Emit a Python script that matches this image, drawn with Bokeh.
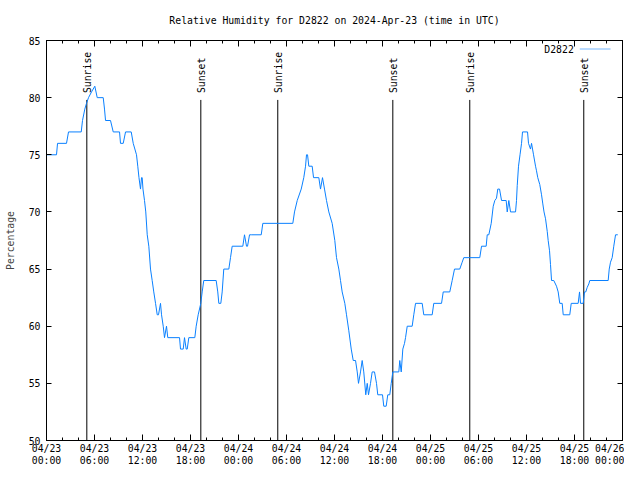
import math
from bokeh.plotting import figure
from bokeh.models import LinearAxis, FixedTicker, Range1d, Label, PolyAnnotation
from bokeh.embed import file_html
from bokeh.resources import INLINE
from bokeh.core.properties import value

# ---- data (hours since 2024-04-23 00:00 UTC) ----
hours = [0.00, 1.25, 1.38, 2.50, 2.75, 4.34, 4.50, 4.79, 5.00, 5.25, 5.63, 6.04, 6.34, 7.09, 7.25, 7.38,
         8.00, 8.34, 9.13, 9.25, 9.59, 9.88, 10.59, 10.84, 11.25, 11.41, 11.56, 11.75, 11.88, 11.96, 12.06,
         12.25, 12.41, 12.59, 12.79, 13.00, 13.21, 13.41, 13.63, 13.84, 14.00, 14.25, 14.38, 14.59, 14.75,
         15.00, 15.16, 16.63, 16.75, 17.09, 17.25, 17.46, 17.59, 17.79, 18.54, 18.71, 18.96, 19.29, 19.46,
         19.66, 21.21, 21.41, 21.54, 21.79, 21.96, 22.16, 22.79, 23.00, 23.21, 24.54, 24.75, 25.00, 25.13,
         25.38, 25.59, 26.84, 27.04, 30.79, 31.00, 31.34, 31.84, 32.16, 32.38, 32.50, 32.63, 32.79, 33.21,
         33.38, 34.04, 34.25, 34.50, 34.75, 35.00, 35.29, 35.71, 36.04, 36.25, 36.54, 36.75, 36.96, 37.29,
         37.50, 37.79, 38.09, 38.34, 38.63, 38.84, 39.00, 39.25, 39.46, 39.66, 39.91, 40.09, 40.25, 40.50,
         40.71, 41.00, 41.25, 41.41, 42.00, 42.16, 42.46, 42.66, 42.91, 43.09, 43.29, 44.04, 44.16, 44.34,
         44.54, 44.75, 44.88, 45.09, 45.71, 45.91, 46.13, 46.96, 47.16, 48.21, 48.41, 49.38, 49.59, 50.41,
         50.71, 51.00, 51.66, 51.96, 52.16, 54.16, 54.38, 54.96, 55.09, 55.29, 55.59, 55.84, 56.04, 56.25,
         56.41, 56.63, 56.88, 57.46, 57.59, 57.79, 58.00, 58.63, 58.75, 58.84, 59.00, 59.19, 59.38, 59.50,
         60.13, 60.25, 60.50, 60.63, 60.88, 61.13, 61.25, 61.41, 61.66, 61.88, 62.04, 62.19, 62.38, 62.59,
         62.71, 62.88, 63.00, 63.13, 63.41, 63.75, 63.96, 64.16, 64.46, 64.59, 65.41, 65.59, 66.46, 66.63,
         66.75, 67.09, 67.25, 67.41, 67.59, 67.79, 67.91, 70.21, 70.34, 70.50, 70.71, 70.91, 71.13, 71.41]
humidity = [75, 75, 76, 76, 77, 77, 78, 79, 79.5, 80, 80.5, 81, 80, 80, 79, 78,
            78, 77, 77, 76, 76, 77, 77, 76, 75, 74, 73, 72, 73, 73, 72,
            71, 70, 68, 67, 65, 64, 63, 62, 61, 61, 62, 61, 60, 59,
            60, 59, 59, 58, 58, 59, 58, 58, 59, 59, 60, 61, 62, 63,
            64, 64, 63, 62, 62, 63, 65, 65, 66, 67, 67, 68, 67, 67,
            68, 68, 68, 69, 69, 70, 71, 72, 73, 74, 75, 75, 74, 74,
            73, 73, 72, 73, 72, 71, 70, 69, 67.5, 66, 65, 64, 63, 62,
            61, 59.6, 58, 57, 57, 56, 55, 56, 57, 56, 54, 55, 54, 55,
            56, 56, 55, 54, 54, 53, 53, 54, 54, 55, 56, 56, 57, 56,
            58, 58.5, 59, 60, 60, 61, 62, 62, 61, 61, 62, 62, 63, 63,
            64, 65, 65, 65.6, 66, 66, 67, 67, 68, 68, 69, 70.5, 71, 71.2,
            72, 72, 71, 71, 70, 71, 70, 70, 71, 72.3, 74, 75, 76, 77,
            77, 76, 75.5, 76, 75, 74, 73.6, 73, 72.4, 71.5, 70.7, 70, 69.4, 68.3,
            67.5, 66.6, 65.4, 64, 64, 63.5, 63, 62, 62, 61, 61, 62, 62, 63,
            62, 62, 63, 63, 63.4, 63.7, 64, 64, 65, 65.6, 66, 67, 68, 68]

sunrise_hours = [5.04, 28.91, 52.91]
sunset_hours = [19.29, 43.29, 67.16]

title_text = "Relative Humidity for D2822 on 2024-Apr-23 (time in UTC)"
x_tick_hours = [0, 6, 12, 18, 24, 30, 36, 42, 48, 54, 60, 66, 72]
x_tick_dates = ["04/23", "04/23", "04/23", "04/23", "04/24", "04/24", "04/24", "04/24",
                "04/25", "04/25", "04/25", "04/25", "04/26"]
x_tick_times = ["00:00", "06:00", "12:00", "18:00", "00:00", "06:00", "12:00", "18:00",
                "00:00", "06:00", "12:00", "18:00", "00:00"]
x_minor_hours = list(range(0, 73, 2))
y_ticks = [50, 55, 60, 65, 70, 75, 80, 85]

FONT = "DejaVu Sans Mono"
FS = "9.8px"
LINE_COLOR = "#0a80ff"

p = figure(frame_width=576, frame_height=400, output_backend="svg", toolbar_location=None,
           x_range=Range1d(0, 72), y_range=Range1d(50, 85),
           min_border_left=46, min_border_right=2, min_border_top=40, min_border_bottom=24)
p.grid.visible = False
p.outline_line_color = "black"
p.outline_line_alpha = 1
p.background_fill_color = "white"
p.border_fill_color = "white"

def style_axis(ax, ticks, labels=True):
    ax.axis_line_color = "black"
    ax.major_tick_line_color = "black"
    ax.minor_tick_line_color = "black"
    ax.major_tick_out = 0
    ax.minor_tick_out = 0
    ax.major_label_text_font = FONT
    ax.major_label_text_color = "black"
    if labels:
        ax.major_label_text_font_size = FS
    else:
        ax.major_label_overrides = {t: "" for t in ticks}
        ax.major_label_text_font_size = "0px"
        ax.major_label_standoff = 0

xa = p.xaxis[0]
xa.ticker = FixedTicker(ticks=x_tick_hours, minor_ticks=x_minor_hours)
style_axis(xa, x_tick_hours)
xa.major_label_overrides = {h: d + "\n" + t for h, d, t in zip(x_tick_hours, x_tick_dates, x_tick_times)}
xa.major_tick_in = 6
xa.minor_tick_in = 3
xa.major_label_standoff = 2
xa.major_label_text_line_height = 1.15

ya = p.yaxis[0]
ya.ticker = FixedTicker(ticks=y_ticks, minor_ticks=[])
style_axis(ya, y_ticks)
ya.major_tick_in = 5
ya.major_label_standoff = 6
ya.axis_label = "Percentage"
ya.axis_label_text_font = FONT
ya.axis_label_text_font_size = FS
ya.axis_label_text_font_style = "normal"
ya.axis_label_standoff = 10

# top mirror axis carries the chart title
top = LinearAxis(ticker=FixedTicker(ticks=x_tick_hours, minor_ticks=x_minor_hours))
style_axis(top, x_tick_hours, labels=False)
top.major_tick_in = 6
top.minor_tick_in = 3
top.axis_label = title_text
top.axis_label_text_font = FONT
top.axis_label_text_font_size = FS
top.axis_label_text_font_style = "normal"
top.axis_label_text_color = "black"
top.axis_label_standoff = 15
p.add_layout(top, "above")

right = LinearAxis(ticker=FixedTicker(ticks=y_ticks, minor_ticks=[]))
style_axis(right, y_ticks, labels=False)
right.major_tick_in = 5
p.add_layout(right, "right")

# sunrise / sunset markers
for xs, name in ((sunrise_hours, "Sunrise"), (sunset_hours, "Sunset")):
    p.segment(x0=xs, y0=[50] * len(xs), x1=xs, y1=[79.8] * len(xs), line_color="black", line_width=1)
    p.text(x=xs, y=[80.4] * len(xs), text=[name] * len(xs), angle=math.pi / 2,
           text_align="left", text_baseline="middle", x_offset=1,
           text_font=value(FONT), text_font_size=FS, text_color="black")

p.line(hours, humidity, line_color=LINE_COLOR, line_width=1)

# legend (text then line sample, as in the original)
p.add_layout(Label(x=527.3, y=391.5, x_units="screen", y_units="screen", text="D2822",
                   text_align="right", text_baseline="middle",
                   text_font=FONT, text_font_size=FS, text_color="black"))
p.add_layout(PolyAnnotation(xs=[533.3, 564.0, 564.0, 533.3], ys=[391.5, 391.5, 391.5, 391.5],
                            xs_units="screen", ys_units="screen",
                            fill_alpha=0, line_color=LINE_COLOR, line_width=1))

open("out.html", "w").write(file_html(p, INLINE))
